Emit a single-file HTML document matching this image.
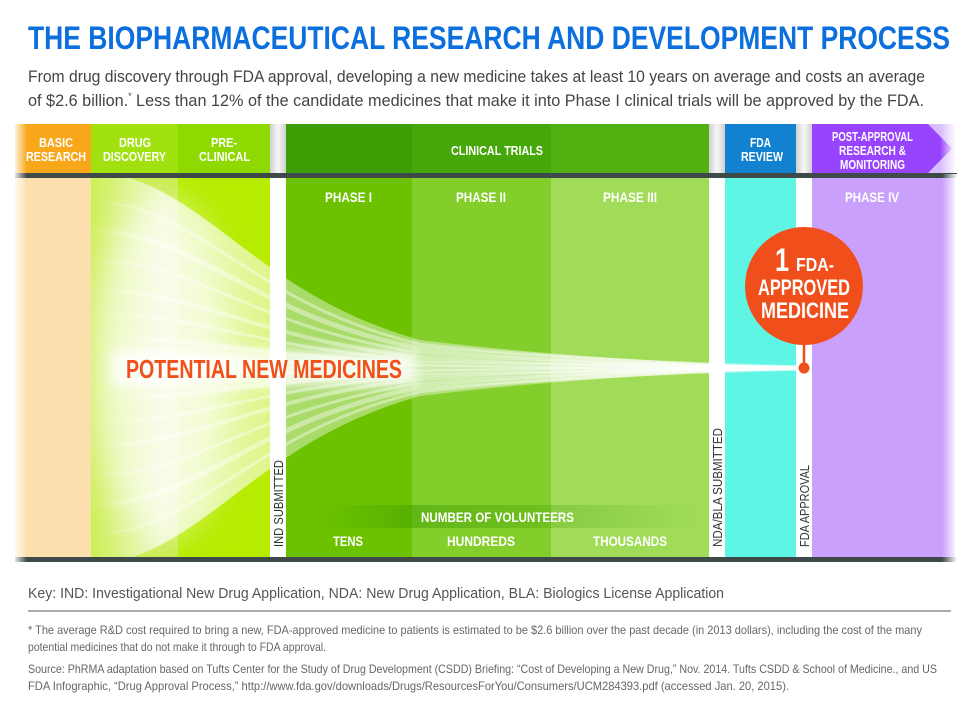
<!DOCTYPE html>
<html>
<head>
<meta charset="utf-8">
<style>
html,body{margin:0;padding:0;background:#fff;}
svg{display:block;}
.b{font-family:"Liberation Sans Narrow","Liberation Sans",sans-serif;font-weight:bold;}
.r{font-family:"Liberation Sans Narrow","Liberation Sans",sans-serif;font-weight:normal;}
</style>
</head>
<body>
<svg width="977" height="706" viewBox="0 0 977 706" xmlns="http://www.w3.org/2000/svg">
<defs>
  <linearGradient id="funnelG" gradientUnits="userSpaceOnUse" x1="91" y1="0" x2="800" y2="0">
    <stop offset="0" stop-color="#fff" stop-opacity="0"/>
    <stop offset="0.1" stop-color="#fff" stop-opacity="0.7"/>
    <stop offset="0.25" stop-color="#fff" stop-opacity="0.55"/>
    <stop offset="0.28" stop-color="#fff" stop-opacity="0.42"/>
    <stop offset="0.6" stop-color="#fff" stop-opacity="0.38"/>
    <stop offset="1" stop-color="#fff" stop-opacity="0.6"/>
  </linearGradient>
  <linearGradient id="streakG" gradientUnits="userSpaceOnUse" x1="91" y1="0" x2="800" y2="0">
    <stop offset="0" stop-color="#fff" stop-opacity="0"/>
    <stop offset="0.1" stop-color="#fff" stop-opacity="0.4"/>
    <stop offset="1" stop-color="#fff" stop-opacity="0.4"/>
  </linearGradient>
  <linearGradient id="gapG" x1="0" y1="0" x2="1" y2="0">
    <stop offset="0" stop-color="#cfcfcf"/>
    <stop offset="0.5" stop-color="#f7f7f7"/>
    <stop offset="1" stop-color="#cfcfcf"/>
  </linearGradient>
  <linearGradient id="leftFade" x1="0" y1="0" x2="1" y2="0">
    <stop offset="0" stop-color="#fff" stop-opacity="1"/>
    <stop offset="1" stop-color="#fff" stop-opacity="0"/>
  </linearGradient>
  <linearGradient id="rightFade" x1="0" y1="0" x2="1" y2="0">
    <stop offset="0" stop-color="#fff" stop-opacity="0"/>
    <stop offset="1" stop-color="#fff" stop-opacity="1"/>
  </linearGradient>
  <linearGradient id="volG" gradientUnits="userSpaceOnUse" x1="320" y1="0" x2="700" y2="0">
    <stop offset="0" stop-color="#3a9a00" stop-opacity="0"/>
    <stop offset="0.25" stop-color="#3a9a00" stop-opacity="0.45"/>
    <stop offset="0.55" stop-color="#3a9a00" stop-opacity="0.3"/>
    <stop offset="1" stop-color="#3a9a00" stop-opacity="0"/>
  </linearGradient>
  <linearGradient id="ddG" x1="0" y1="0" x2="1" y2="0">
    <stop offset="0" stop-color="#cdee55"/>
    <stop offset="1" stop-color="#c6ec48"/>
  </linearGradient>
  <filter id="blur20" x="-50%" y="-50%" width="200%" height="200%"><feGaussianBlur stdDeviation="18"/></filter>
  <filter id="blur6" x="-20%" y="-60%" width="140%" height="220%"><feGaussianBlur stdDeviation="6"/></filter>
  <clipPath id="funClip"><rect x="91" y="178" width="712" height="379"/></clipPath>
  <clipPath id="ddClip"><rect x="91" y="178" width="179" height="379"/></clipPath>
</defs>

<!-- Title -->
<text class="b" x="28" y="49" font-size="32" fill="#0b6fdd" textLength="922" lengthAdjust="spacingAndGlyphs">THE BIOPHARMACEUTICAL RESEARCH AND DEVELOPMENT PROCESS</text>
<text class="r" x="28" y="82" font-size="17" fill="#444" textLength="897" lengthAdjust="spacingAndGlyphs">From drug discovery through FDA approval, developing a new medicine takes at least 10 years on average and costs an average</text>
<text class="r" x="28" y="106" font-size="17" fill="#444" textLength="896" lengthAdjust="spacingAndGlyphs">of $2.6 billion.<tspan font-size="9" dy="-7">*</tspan><tspan dy="7"> Less than 12% of the candidate medicines that make it into Phase I clinical trials will be approved by the FDA.</tspan></text>

<!-- Header bar -->
<rect x="15" y="124" width="76" height="49" fill="#f8a71b"/>
<rect x="91" y="124" width="87" height="49" fill="#a1e10f"/>
<rect x="178" y="124" width="92" height="49" fill="#8dd900"/>
<rect x="270" y="124" width="16" height="49" fill="url(#gapG)"/>
<rect x="286" y="124" width="126" height="49" fill="#3c9d05"/>
<rect x="412" y="124" width="139" height="49" fill="#46a70a"/>
<rect x="551" y="124" width="158" height="49" fill="#52b011"/>
<rect x="709" y="124" width="16" height="49" fill="url(#gapG)"/>
<rect x="725" y="124" width="71" height="49" fill="#1282d0"/>
<rect x="796" y="124" width="16" height="49" fill="url(#gapG)"/>
<rect x="928" y="124" width="27" height="49" fill="#c9a0fc" opacity="0.7"/>
<path d="M812,124 L928,124 L952,148.5 L928,173 L812,173 Z" fill="#9843fe"/>
<rect x="940" y="124" width="16" height="49" fill="url(#rightFade)"/>

<!-- Header text -->
<g class="b" fill="#fff" font-size="13">
  <text x="39" y="147" textLength="34" lengthAdjust="spacingAndGlyphs">BASIC</text>
  <text x="26" y="161" textLength="60" lengthAdjust="spacingAndGlyphs">RESEARCH</text>
  <text x="119" y="147" textLength="32" lengthAdjust="spacingAndGlyphs">DRUG</text>
  <text x="103" y="161" textLength="63" lengthAdjust="spacingAndGlyphs">DISCOVERY</text>
  <text x="211" y="147" textLength="26" lengthAdjust="spacingAndGlyphs">PRE-</text>
  <text x="199" y="161" textLength="51" lengthAdjust="spacingAndGlyphs">CLINICAL</text>
  <text x="451" y="155" textLength="92" lengthAdjust="spacingAndGlyphs">CLINICAL TRIALS</text>
  <text x="750" y="147" textLength="21" lengthAdjust="spacingAndGlyphs">FDA</text>
  <text x="741" y="161" textLength="42" lengthAdjust="spacingAndGlyphs">REVIEW</text>
  <text x="832" y="141" textLength="81" lengthAdjust="spacingAndGlyphs">POST-APPROVAL</text>
  <text x="839" y="155" textLength="67" lengthAdjust="spacingAndGlyphs">RESEARCH &amp;</text>
  <text x="840" y="169" textLength="65" lengthAdjust="spacingAndGlyphs">MONITORING</text>
</g>

<!-- Dark divider -->
<rect x="15" y="173" width="942" height="5" fill="#3e4a4a"/>

<!-- Body columns -->
<rect x="15" y="178" width="76" height="379" fill="#fddfae"/>
<rect x="91" y="178" width="87" height="379" fill="url(#ddG)"/>
<rect x="178" y="178" width="92" height="379" fill="#b7eb00"/>
<rect x="286" y="178" width="126" height="379" fill="#6cc200"/>
<rect x="412" y="178" width="139" height="379" fill="#83ce2a"/>
<rect x="551" y="178" width="158" height="379" fill="#a1dc59"/>
<rect x="725" y="178" width="71" height="379" fill="#5ef5e4"/>
<rect x="812" y="178" width="143" height="379" fill="#c9a0fc"/>

<!-- Glow in drug discovery -->
<g clip-path="url(#ddClip)">
  <ellipse cx="160" cy="368" rx="70" ry="170" fill="#fff" opacity="0.6" filter="url(#blur20)"/>
</g>

<!-- Funnel -->
<g clip-path="url(#funClip)">
  <path d="M91,170 L130,178 C220,208 270,298 420,340 C550,356 700,364 804,368 C700,372 550,380 420,396 C270,438 220,528 130,558 L91,566 Z" fill="url(#funnelG)"/>
  <g fill="none" stroke="url(#streakG)" stroke-width="3">
    <path d="M91,200 L130,206.5 C220,232 270,308.5 420,344.2 C550,357.8 700,364.6 804,368"/>
    <path d="M91,230 L130,235 C220,256 270,319 420,348.4 C550,359.6 700,365.2 804,368" stroke-width="5"/>
    <path d="M91,260 L130,263.5 C220,280 270,329.5 420,352.6 C550,361.4 700,365.8 804,368"/>
    <path d="M91,290 L130,292 C220,304 270,340 420,356.8 C550,363.2 700,366.4 804,368" stroke-width="4"/>
    <path d="M91,314 L130,314.8 C220,323.2 270,348.4 420,360.2 C550,364.6 700,366.9 804,368"/>
    <path d="M91,337 L130,337.6 C220,342.4 270,356.8 420,363.5 C550,366.1 700,367.4 804,368" stroke-width="5"/>
    <path d="M91,356.5 L130,356.6 C220,358.4 270,363.8 420,366.3 C550,367.3 700,367.8 804,368"/>
    <path d="M91,379.5 L130,379.4 C220,377.6 270,372.2 420,369.7 C550,368.7 700,368.2 804,368"/>
    <path d="M91,399 L130,398.4 C220,393.6 270,379.2 420,372.5 C550,369.9 700,368.6 804,368" stroke-width="5"/>
    <path d="M91,422 L130,421.2 C220,412.8 270,387.6 420,375.8 C550,371.4 700,369.1 804,368"/>
    <path d="M91,446 L130,444 C220,432 270,396 420,379.2 C550,372.8 700,369.6 804,368" stroke-width="4"/>
    <path d="M91,476 L130,472.5 C220,456 270,406.5 420,383.4 C550,374.6 700,370.2 804,368"/>
    <path d="M91,506 L130,501 C220,480 270,417 420,387.6 C550,376.4 700,370.8 804,368" stroke-width="5"/>
    <path d="M91,536 L130,529.5 C220,504 270,427.5 420,391.8 C550,377.2 700,371.4 804,368"/>
  </g>
</g>

<!-- Body gaps -->
<rect x="270" y="178" width="16" height="379" fill="#fff"/>
<rect x="709" y="178" width="16" height="379" fill="#fff"/>
<rect x="796" y="178" width="16" height="379" fill="#fff"/>

<!-- Volunteers band -->
<rect x="320" y="505" width="380" height="23" fill="url(#volG)"/>

<!-- Phase labels -->
<g class="b" fill="#fff" font-size="14">
  <text x="325" y="202" textLength="47" lengthAdjust="spacingAndGlyphs">PHASE I</text>
  <text x="456" y="202" textLength="50" lengthAdjust="spacingAndGlyphs">PHASE II</text>
  <text x="603" y="202" textLength="54" lengthAdjust="spacingAndGlyphs">PHASE III</text>
  <text x="845" y="202" textLength="54" lengthAdjust="spacingAndGlyphs">PHASE IV</text>
  <text x="421" y="522" textLength="153" lengthAdjust="spacingAndGlyphs">NUMBER OF VOLUNTEERS</text>
  <text x="333" y="546" textLength="30" lengthAdjust="spacingAndGlyphs">TENS</text>
  <text x="447" y="546" textLength="68" lengthAdjust="spacingAndGlyphs">HUNDREDS</text>
  <text x="593" y="546" textLength="74" lengthAdjust="spacingAndGlyphs">THOUSANDS</text>
</g>

<!-- Vertical labels -->
<g class="r" fill="#333" font-size="13">
  <text transform="translate(283,547) rotate(-90)" textLength="87" lengthAdjust="spacingAndGlyphs">IND SUBMITTED</text>
  <text transform="translate(722,547) rotate(-90)" textLength="119" lengthAdjust="spacingAndGlyphs">NDA/BLA SUBMITTED</text>
  <text transform="translate(809,547) rotate(-90)" textLength="82" lengthAdjust="spacingAndGlyphs">FDA APPROVAL</text>
</g>

<!-- Potential new medicines -->
<rect x="112" y="350" width="304" height="36" fill="#fff" opacity="0.85" filter="url(#blur6)"/>
<text class="b" x="126" y="378" font-size="26" fill="#f0501a" textLength="276" lengthAdjust="spacingAndGlyphs">POTENTIAL NEW MEDICINES</text>

<!-- Circle -->
<line x1="804" y1="340" x2="804" y2="368" stroke="#f04f1b" stroke-width="2.5"/>
<circle cx="804" cy="368" r="5.5" fill="#f04f1b"/>
<circle cx="804" cy="286" r="59" fill="#f04f1b"/>
<g class="b" fill="#fff">
  <text x="775" y="271" font-size="32" textLength="14" lengthAdjust="spacingAndGlyphs">1</text>
  <text x="796" y="271" font-size="18" textLength="38" lengthAdjust="spacingAndGlyphs">FDA-</text>
  <text x="758" y="295" font-size="22" textLength="92" lengthAdjust="spacingAndGlyphs">APPROVED</text>
  <text x="761" y="318" font-size="22" textLength="88" lengthAdjust="spacingAndGlyphs">MEDICINE</text>
</g>

<!-- Bottom divider -->
<rect x="15" y="557" width="942" height="5" fill="#3e4a4a"/>

<!-- Edge fades -->
<rect x="13" y="122" width="14" height="442" fill="url(#leftFade)"/>
<rect x="942" y="174" width="15" height="390" fill="url(#rightFade)"/>

<!-- Footer -->
<text class="r" x="28" y="598" font-size="15" fill="#555" textLength="696" lengthAdjust="spacingAndGlyphs">Key: IND: Investigational New Drug Application, NDA: New Drug Application, BLA: Biologics License Application</text>
<rect x="28" y="610" width="923" height="2" fill="#aaa"/>
<g class="r" fill="#666" font-size="12">
  <text x="28" y="634" textLength="894" lengthAdjust="spacingAndGlyphs">* The average R&amp;D cost required to bring a new, FDA-approved medicine to patients is estimated to be $2.6 billion over the past decade (in 2013 dollars), including the cost of the many</text>
  <text x="28" y="651" textLength="298" lengthAdjust="spacingAndGlyphs">potential medicines that do not make it through to FDA approval.</text>
  <text x="28" y="673" textLength="909" lengthAdjust="spacingAndGlyphs">Source: PhRMA adaptation based on Tufts Center for the Study of Drug Development (CSDD) Briefing: “Cost of Developing a New Drug,” Nov. 2014. Tufts CSDD &amp; School of Medicine., and US</text>
  <text x="28" y="690" textLength="761" lengthAdjust="spacingAndGlyphs">FDA Infographic, “Drug Approval Process,” http://www.fda.gov/downloads/Drugs/ResourcesForYou/Consumers/UCM284393.pdf (accessed Jan. 20, 2015).</text>
</g>
</svg>
</body>
</html>
